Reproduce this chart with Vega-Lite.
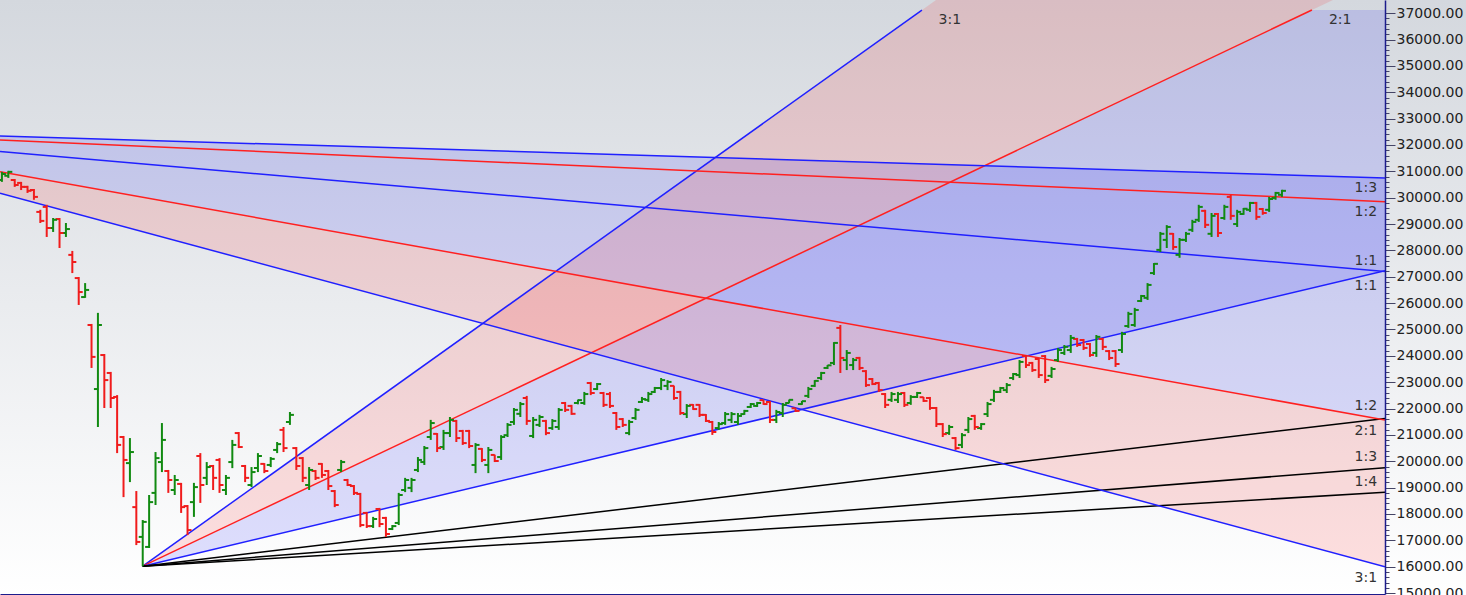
{
"$schema": "https://vega.github.io/schema/vega-lite/v6.json",
"width": 1385, "height": 594,
"autosize": {"type": "none"},
"padding": {"left": 0, "top": 0, "right": 81, "bottom": 1},
"background": "#ffffff",
"config": {"view": {"stroke": null}, "font": "DejaVu Sans"},
"datasets": {
"bars": [
{"t":0,"o":30670,"h":30980,"l":30600,"c":30900},{"t":1,"o":30830,"h":31020,"l":30750,"c":30980},{"t":2,"o":30670,"h":30710,"l":30410,"c":30480},{"t":3,"o":30560,"h":30600,"l":30290,"c":30410},{"t":4,"o":30410,"h":30450,"l":30180,"c":30260},{"t":5,"o":30290,"h":30330,"l":29920,"c":30030},{"t":6,"o":29460,"h":29540,"l":29040,"c":29120},{"t":7,"o":29650,"h":29730,"l":28510,"c":28850},{"t":8,"o":28850,"h":29230,"l":28700,"c":29160},{"t":9,"o":29190,"h":29230,"l":28090,"c":28660},
{"t":10,"o":28660,"h":29040,"l":28510,"c":28810},{"t":11,"o":27830,"h":27980,"l":27140,"c":27560},{"t":12,"o":26950,"h":26990,"l":25930,"c":26420},{"t":13,"o":26230,"h":26760,"l":26200,"c":26500},{"t":14,"o":25170,"h":25210,"l":23540,"c":23960},{"t":15,"o":22740,"h":25630,"l":21300,"c":25170},{"t":16,"o":24030,"h":24070,"l":22020,"c":23080},{"t":17,"o":23350,"h":23390,"l":22020,"c":22400},{"t":18,"o":22440,"h":22510,"l":20310,"c":20620},{"t":19,"o":20920,"h":20960,"l":18640,"c":20050},
{"t":20,"o":19930,"h":20880,"l":19210,"c":20350},{"t":21,"o":18260,"h":18870,"l":16820,"c":16940},{"t":22,"o":17130,"h":17770,"l":16020,"c":17700},{"t":23,"o":16750,"h":18720,"l":16710,"c":18450},{"t":24,"o":18800,"h":20350,"l":18340,"c":20120},{"t":25,"o":19970,"h":21450,"l":19590,"c":20810},{"t":26,"o":19630,"h":19670,"l":18800,"c":19290},{"t":27,"o":18910,"h":19480,"l":18720,"c":19290},{"t":28,"o":19140,"h":19180,"l":18040,"c":18260},{"t":29,"o":18300,"h":18340,"l":17200,"c":17390},
{"t":30,"o":18450,"h":19180,"l":17890,"c":19020},{"t":31,"o":20200,"h":20310,"l":18420,"c":19100},{"t":32,"o":19370,"h":19970,"l":19100,"c":19780},{"t":33,"o":19820,"h":19860,"l":18910,"c":19370},{"t":34,"o":20050,"h":20120,"l":18800,"c":19100},{"t":35,"o":18910,"h":19480,"l":18720,"c":19370},{"t":36,"o":19970,"h":20810,"l":19740,"c":20620},{"t":37,"o":21070,"h":21110,"l":20500,"c":20540},{"t":38,"o":19820,"h":19860,"l":19210,"c":19370},{"t":39,"o":19100,"h":19780,"l":19020,"c":19590},
{"t":40,"o":19740,"h":20310,"l":19590,"c":20200},{"t":41,"o":19900,"h":19930,"l":19550,"c":19630},{"t":42,"o":19860,"h":20160,"l":19780,"c":20090},{"t":43,"o":20430,"h":20730,"l":20310,"c":20650},{"t":44,"o":21190,"h":21300,"l":20350,"c":20500},{"t":45,"o":21490,"h":21870,"l":21380,"c":21760},{"t":46,"o":20500,"h":20540,"l":19670,"c":19820},{"t":47,"o":20120,"h":20160,"l":19210,"c":19370},{"t":48,"o":19100,"h":19780,"l":18910,"c":19670},{"t":49,"o":19630,"h":19670,"l":19290,"c":19370},
{"t":50,"o":19900,"h":19930,"l":19370,"c":19480},{"t":51,"o":19630,"h":19670,"l":18910,"c":19060},{"t":52,"o":18870,"h":18910,"l":18260,"c":18340},{"t":53,"o":19670,"h":20050,"l":19590,"c":19970},{"t":54,"o":19290,"h":19330,"l":19060,"c":19100},{"t":55,"o":19060,"h":19100,"l":18720,"c":18800},{"t":56,"o":18760,"h":18800,"l":17500,"c":17580},{"t":57,"o":18040,"h":18080,"l":17470,"c":17540},{"t":58,"o":17540,"h":17890,"l":17470,"c":17810},{"t":59,"o":18190,"h":18230,"l":17500,"c":17620},
{"t":60,"o":17850,"h":17890,"l":17130,"c":17240},{"t":61,"o":17430,"h":17580,"l":17390,"c":17540},{"t":62,"o":17660,"h":18800,"l":17580,"c":18720},{"t":63,"o":18910,"h":19370,"l":18830,"c":19290},{"t":64,"o":18990,"h":19370,"l":18830,"c":19290},{"t":65,"o":19670,"h":20160,"l":19590,"c":20050},{"t":66,"o":19970,"h":20580,"l":19860,"c":20500},{"t":67,"o":20920,"h":21570,"l":20810,"c":21450},{"t":68,"o":21040,"h":21070,"l":20350,"c":20500},{"t":69,"o":20540,"h":21190,"l":20430,"c":21070},
{"t":70,"o":21070,"h":21680,"l":20920,"c":21570},{"t":71,"o":21530,"h":21570,"l":20730,"c":20880},{"t":72,"o":21150,"h":21190,"l":20620,"c":20690},{"t":73,"o":21150,"h":21190,"l":20500,"c":20580},{"t":74,"o":19860,"h":20690,"l":19550,"c":20620},{"t":75,"o":20470,"h":20500,"l":19970,"c":20050},{"t":76,"o":19860,"h":20540,"l":19550,"c":20430},{"t":77,"o":20240,"h":20250,"l":19970,"c":20010},{"t":78,"o":20160,"h":20990,"l":20050,"c":20920},{"t":79,"o":20990,"h":21450,"l":20920,"c":21380},
{"t":80,"o":21490,"h":22020,"l":21380,"c":21950},{"t":81,"o":21800,"h":22250,"l":21680,"c":22170},{"t":82,"o":22400,"h":22480,"l":21380,"c":21530},{"t":83,"o":20960,"h":21680,"l":20880,"c":21570},{"t":84,"o":21380,"h":21760,"l":21300,"c":21680},{"t":85,"o":21530,"h":21570,"l":20990,"c":21070},{"t":86,"o":21260,"h":21600,"l":21190,"c":21530},{"t":87,"o":21300,"h":22020,"l":21190,"c":21950},{"t":88,"o":22210,"h":22250,"l":21870,"c":21950},{"t":89,"o":22100,"h":22140,"l":21760,"c":21800},
{"t":90,"o":22210,"h":22340,"l":22160,"c":22320},{"t":91,"o":22210,"h":22630,"l":22140,"c":22550},{"t":92,"o":22970,"h":23010,"l":22510,"c":22590},{"t":93,"o":22740,"h":22970,"l":22700,"c":22930},{"t":94,"o":22590,"h":22630,"l":22060,"c":22140},{"t":95,"o":22550,"h":22630,"l":22020,"c":22100},{"t":96,"o":21830,"h":21870,"l":21190,"c":21300},{"t":97,"o":21600,"h":21640,"l":21300,"c":21380},{"t":98,"o":21070,"h":21570,"l":20990,"c":21490},{"t":99,"o":21640,"h":22020,"l":21570,"c":21950},
{"t":100,"o":22250,"h":22440,"l":22210,"c":22360},{"t":101,"o":22330,"h":22630,"l":22250,"c":22550},{"t":102,"o":22630,"h":22820,"l":22590,"c":22780},{"t":103,"o":22780,"h":23160,"l":22700,"c":23080},{"t":104,"o":22860,"h":23080,"l":22700,"c":23010},{"t":105,"o":22860,"h":22870,"l":22330,"c":22400},{"t":106,"o":22630,"h":22670,"l":21760,"c":21830},{"t":107,"o":21790,"h":22170,"l":21640,"c":22100},{"t":108,"o":22140,"h":22170,"l":21950,"c":21980},{"t":109,"o":22140,"h":22170,"l":21680,"c":21760},
{"t":110,"o":21760,"h":21790,"l":21490,"c":21530},{"t":111,"o":21490,"h":21530,"l":21000,"c":21110},{"t":112,"o":21260,"h":21490,"l":21190,"c":21410},{"t":113,"o":21450,"h":21870,"l":21380,"c":21790},{"t":114,"o":21570,"h":21870,"l":21450,"c":21790},{"t":115,"o":21490,"h":21830,"l":21380,"c":21720},{"t":116,"o":21790,"h":21950,"l":21760,"c":21910},{"t":117,"o":22060,"h":22210,"l":22020,"c":22170},{"t":118,"o":22100,"h":22250,"l":22060,"c":22210},{"t":119,"o":22320,"h":22330,"l":22140,"c":22170},
{"t":120,"o":22250,"h":22290,"l":21450,"c":21570},{"t":121,"o":21570,"h":21950,"l":21450,"c":21870},{"t":122,"o":21830,"h":22210,"l":21680,"c":22140},{"t":123,"o":22210,"h":22340,"l":22200,"c":22330},{"t":124,"o":22010,"h":22020,"l":21870,"c":21910},{"t":125,"o":22170,"h":22290,"l":22140,"c":22280},{"t":126,"o":22480,"h":22820,"l":22400,"c":22740},{"t":127,"o":22860,"h":23080,"l":22820,"c":23050},{"t":128,"o":23160,"h":23390,"l":23080,"c":23350},{"t":129,"o":23540,"h":23650,"l":23500,"c":23640},
{"t":130,"o":23730,"h":24520,"l":23650,"c":24490},{"t":131,"o":25060,"h":25170,"l":23350,"c":23920},{"t":132,"o":23840,"h":24220,"l":23460,"c":24110},{"t":133,"o":23650,"h":23920,"l":23460,"c":23840},{"t":134,"o":23920,"h":23960,"l":23460,"c":23540},{"t":135,"o":23420,"h":23460,"l":22820,"c":22890},{"t":136,"o":23120,"h":23160,"l":22890,"c":22930},{"t":137,"o":22970,"h":23010,"l":22630,"c":22700},{"t":138,"o":22550,"h":22590,"l":22020,"c":22140},{"t":139,"o":22330,"h":22630,"l":22250,"c":22550},
{"t":140,"o":22330,"h":22630,"l":22210,"c":22550},{"t":141,"o":22590,"h":22630,"l":22060,"c":22140},{"t":142,"o":22210,"h":22510,"l":22140,"c":22440},{"t":143,"o":22440,"h":22630,"l":22400,"c":22590},{"t":144,"o":22430,"h":22440,"l":22250,"c":22290},{"t":145,"o":22400,"h":22440,"l":21950,"c":22020},{"t":146,"o":22020,"h":22060,"l":21300,"c":21410},{"t":147,"o":21410,"h":21450,"l":20920,"c":21030},{"t":148,"o":21070,"h":21380,"l":21000,"c":21300},{"t":149,"o":20880,"h":20920,"l":20430,"c":20500},
{"t":150,"o":20620,"h":21070,"l":20500,"c":20990},{"t":151,"o":21190,"h":21680,"l":21070,"c":21600},{"t":152,"o":21720,"h":21760,"l":21190,"c":21300},{"t":153,"o":21260,"h":21450,"l":21190,"c":21410},{"t":154,"o":21790,"h":22250,"l":21680,"c":22170},{"t":155,"o":22330,"h":22710,"l":22250,"c":22630},{"t":156,"o":22630,"h":22820,"l":22590,"c":22780},{"t":157,"o":22700,"h":22970,"l":22590,"c":22890},{"t":158,"o":23160,"h":23350,"l":23080,"c":23310},{"t":159,"o":23270,"h":23840,"l":23160,"c":23770},
{"t":160,"o":23990,"h":24030,"l":23540,"c":23650},{"t":161,"o":23730,"h":23770,"l":23390,"c":23460},{"t":162,"o":23880,"h":23920,"l":23160,"c":23270},{"t":163,"o":23990,"h":24030,"l":22970,"c":23080},{"t":164,"o":23240,"h":23580,"l":23160,"c":23500},{"t":165,"o":23840,"h":24300,"l":23770,"c":24220},{"t":166,"o":24110,"h":24410,"l":24030,"c":24340},{"t":167,"o":24220,"h":24790,"l":24110,"c":24680},{"t":168,"o":24640,"h":24680,"l":24340,"c":24410},{"t":169,"o":24600,"h":24640,"l":24220,"c":24300},
{"t":170,"o":24450,"h":24490,"l":23960,"c":24030},{"t":171,"o":24110,"h":24790,"l":23960,"c":24720},{"t":172,"o":24640,"h":24680,"l":24220,"c":24340},{"t":173,"o":24180,"h":24220,"l":23840,"c":23920},{"t":174,"o":24180,"h":24220,"l":23580,"c":23690},{"t":175,"o":24220,"h":24910,"l":24110,"c":24830},{"t":176,"o":25130,"h":25670,"l":25060,"c":25590},{"t":177,"o":25170,"h":25820,"l":25100,"c":25740},{"t":178,"o":26080,"h":26310,"l":26040,"c":26270},{"t":179,"o":26200,"h":26760,"l":26120,"c":26690},
{"t":180,"o":27140,"h":27520,"l":27070,"c":27490},{"t":181,"o":28020,"h":28700,"l":27940,"c":28630},{"t":182,"o":28400,"h":28960,"l":28090,"c":28890},{"t":183,"o":28630,"h":28660,"l":28020,"c":28130},{"t":184,"o":27830,"h":28470,"l":27720,"c":28400},{"t":185,"o":28400,"h":28700,"l":28320,"c":28630},{"t":186,"o":28780,"h":29160,"l":28700,"c":29080},{"t":187,"o":29160,"h":29730,"l":29080,"c":29650},{"t":188,"o":29500,"h":29540,"l":28850,"c":28970},{"t":189,"o":28630,"h":29420,"l":28510,"c":29310},
{"t":190,"o":29380,"h":29420,"l":28510,"c":28660},{"t":191,"o":29230,"h":29730,"l":29160,"c":29650},{"t":192,"o":30030,"h":30110,"l":29160,"c":29310},{"t":193,"o":29000,"h":29540,"l":28890,"c":29460},{"t":194,"o":29380,"h":29610,"l":29350,"c":29580},{"t":195,"o":29540,"h":29840,"l":29460,"c":29800},{"t":196,"o":29800,"h":29840,"l":29160,"c":29270},{"t":197,"o":29570,"h":29610,"l":29350,"c":29420},{"t":198,"o":29540,"h":30030,"l":29460,"c":29950},{"t":199,"o":29990,"h":30220,"l":29920,"c":30180},
{"t":200,"o":30110,"h":30300,"l":30030,"c":30260}
],
"lines": [
{"id":"a31","kind":"blue","t":22,"p":16020},{"id":"a31","kind":"blue","t":143.75,"p":37120},
{"id":"a21","kind":"red","t":22,"p":16020},{"id":"a21","kind":"red","t":204.68,"p":37120},
{"id":"a11","kind":"blue","t":22,"p":16020},{"id":"a11","kind":"blue","t":216.1,"p":27231},
{"id":"a12","kind":"black","t":22,"p":16020},{"id":"a12","kind":"black","t":216.1,"p":21626},
{"id":"a13","kind":"black","t":22,"p":16020},{"id":"a13","kind":"black","t":216.1,"p":19757},
{"id":"a14","kind":"black","t":22,"p":16020},{"id":"a14","kind":"black","t":216.1,"p":18823},
{"id":"dA","kind":"blue","t":-0.3,"p":32344},{"id":"dA","kind":"blue","t":216.1,"p":30750},
{"id":"dB","kind":"red","t":-0.3,"p":32192},{"id":"dB","kind":"red","t":216.1,"p":29850},
{"id":"dC","kind":"blue","t":-0.3,"p":31752},{"id":"dC","kind":"blue","t":216.1,"p":27198},
{"id":"dD","kind":"red","t":-0.3,"p":30989},{"id":"dD","kind":"red","t":216.1,"p":21566},
{"id":"dE","kind":"blue","t":-0.3,"p":30169},{"id":"dE","kind":"blue","t":216.1,"p":16000}
],
"fills": [
{"id":"fAD","kind":"blue","t":-0.3,"lo":30989,"hi":32344},{"id":"fAD","kind":"blue","t":216.1,"lo":21566,"hi":30750},
{"id":"fDE","kind":"red","t":-0.3,"lo":30169,"hi":30989},{"id":"fDE","kind":"red","t":216.1,"lo":16000,"hi":21566},
{"id":"f3121","kind":"red","t":22,"lo":16020,"hi":16020},{"id":"f3121","kind":"red","t":216.1,"lo":38439,"hi":49657},
{"id":"f2111","kind":"blue","t":22,"lo":16020,"hi":16020},{"id":"f2111","kind":"blue","t":204.68,"lo":26572,"hi":37120},{"id":"f2111","kind":"blue","t":216.1,"lo":27231,"hi":37120}
],
"labels": [
{"t":213.1,"p":30370,"text":"1:3"},{"t":213.1,"p":29460,"text":"1:2"},{"t":213.1,"p":27600,"text":"1:1"},{"t":213.1,"p":26650,"text":"1:1"},{"t":213.1,"p":22100,"text":"1:2"},{"t":213.1,"p":21150,"text":"2:1"},{"t":213.1,"p":20160,"text":"1:3"},{"t":213.1,"p":19210,"text":"1:4"},{"t":213.1,"p":15570,"text":"3:1"},{"t":148.1,"p":36760,"text":"3:1"},{"t":209.1,"p":36760,"text":"2:1"}
]
},
"layer": [
{
"data": {"values": [{}]},
"mark": {"type": "rect", "clip": false, "fill": {"gradient": "linear", "x1": 0, "y1": 0, "x2": 0, "y2": 1, "stops": [{"offset": 0, "color": "#d4d8de"}, {"offset": 1, "color": "#ffffff"}]}},
"encoding": {
"x": {"datum": -0.3, "type": "quantitative", "scale": {"domain": [-0.3, 216.1], "nice": false, "zero": false}, "title": null},
"x2": {"datum": 228.9},
"y": {"datum": 14900, "type": "quantitative", "scale": {"domain": [14964, 37500], "nice": false, "zero": false}, "title": null},
"y2": {"datum": 37500}
}
},
{
"data": {"name": "fills"},
"mark": {"type": "area", "clip": true, "fillOpacity": 0.12},
"encoding": {
"x": {"field": "t", "type": "quantitative", "title": null,
 "axis": {"orient": "bottom", "zindex": 1, "labels": false, "grid": false, "tickSize": 3, "tickCount": 40, "domainColor": "#1c1c8c", "tickColor": "#555555", "title": null}},
"y": {"field": "lo", "type": "quantitative", "title": null,
 "axis": {"orient": "right", "zindex": 1, "grid": false, "title": null, "tickCount": 1000,
  "values": [15000,15200,15400,15600,15800,16000,16200,16400,16600,16800,17000,17200,17400,17600,17800,18000,18200,18400,18600,18800,19000,19200,19400,19600,19800,20000,20200,20400,20600,20800,21000,21200,21400,21600,21800,22000,22200,22400,22600,22800,23000,23200,23400,23600,23800,24000,24200,24400,24600,24800,25000,25200,25400,25600,25800,26000,26200,26400,26600,26800,27000,27200,27400,27600,27800,28000,28200,28400,28600,28800,29000,29200,29400,29600,29800,30000,30200,30400,30600,30800,31000,31200,31400,31600,31800,32000,32200,32400,32600,32800,33000,33200,33400,33600,33800,34000,34200,34400,34600,34800,35000,35200,35400,35600,35800,36000,36200,36400,36600,36800,37000],
  "labelExpr": "datum.value % 1000 === 0 ? format(datum.value, '.2f') : ''",
  "tickSize": {"condition": {"test": "datum.value % 1000 === 0", "value": 10}, "value": 4},
  "labelPadding": 1, "labelOverlap": false, "labelFlush": false, "labelFont": "DejaVu Sans", "labelFontSize": 14, "labelColor": "#222222",
  "domainColor": "#1c1c8c", "domainWidth": 1.5, "tickColor": "#444466", "tickWidth": 1}},
"y2": {"field": "hi"},
"fill": {"field": "kind", "type": "nominal", "scale": {"domain": ["blue", "red", "black"], "range": ["#0000ff", "#ff0000", "#000000"]}, "legend": null},
"detail": {"field": "id"}
}
},
{
"data": {"name": "lines"},
"mark": {"type": "line", "clip": true, "strokeWidth": 1.5},
"encoding": {
"x": {"field": "t", "type": "quantitative", "title": null},
"y": {"field": "p", "type": "quantitative", "title": null},
"stroke": {"field": "kind", "type": "nominal", "scale": {"domain": ["blue", "red", "black"], "range": ["#2020ff", "#ff2020", "#000000"]}, "legend": null},
"detail": {"field": "id"}
}
},
{
"data": {"name": "bars"},
"mark": {"type": "rule", "strokeWidth": 2},
"encoding": {
"x": {"field": "t", "type": "quantitative", "title": null},
"y": {"field": "l", "type": "quantitative", "title": null},
"y2": {"field": "h"},
"color": {"condition": {"test": "datum.c >= datum.o", "value": "#118a11"}, "value": "#f01c1c"}
}
},
{
"data": {"name": "bars"},
"mark": {"type": "tick", "orient": "horizontal", "size": 4, "thickness": 2, "xOffset": -2, "opacity": 1},
"encoding": {
"x": {"field": "t", "type": "quantitative", "title": null},
"y": {"field": "o", "type": "quantitative", "title": null},
"color": {"condition": {"test": "datum.c >= datum.o", "value": "#118a11"}, "value": "#f01c1c"}
}
},
{
"data": {"name": "bars"},
"mark": {"type": "tick", "orient": "horizontal", "size": 4, "thickness": 2, "xOffset": 2, "opacity": 1},
"encoding": {
"x": {"field": "t", "type": "quantitative", "title": null},
"y": {"field": "c", "type": "quantitative", "title": null},
"color": {"condition": {"test": "datum.c >= datum.o", "value": "#118a11"}, "value": "#f01c1c"}
}
},
{
"data": {"name": "labels"},
"mark": {"type": "text", "font": "DejaVu Sans", "fontSize": 14, "fill": "#333333", "align": "center", "baseline": "middle"},
"encoding": {
"x": {"field": "t", "type": "quantitative", "title": null},
"y": {"field": "p", "type": "quantitative", "title": null},
"text": {"field": "text"}
}
}
]
}
